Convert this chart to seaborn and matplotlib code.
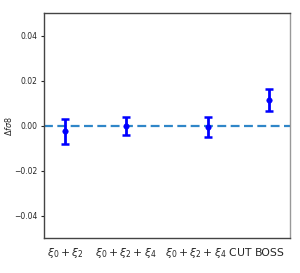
import matplotlib
matplotlib.use("Agg")
import matplotlib.pyplot as plt
import seaborn as sns
import pandas as pd

# dados
labels = [r"$\xi_0+\xi_2$", r"$\xi_0+\xi_2+\xi_4$", r"$\xi_0+\xi_2+\xi_4$ CUT", "BOSS"]
positions = [0, 1, 2.35, 3.35]
delta_fs8 = [-0.0025, 0.0, -0.0005, 0.0115]
errors = [0.0055, 0.004, 0.0045, 0.0048]

df = pd.DataFrame({"x": positions, "y": delta_fs8, "err": errors})

sns.set_style("white")
plt.rcParams["mathtext.fontset"] = "custom"
plt.rcParams["mathtext.rm"] = "DejaVu Sans Condensed"
plt.rcParams["mathtext.it"] = "DejaVu Sans Condensed:italic"
plt.rcParams["mathtext.bf"] = "DejaVu Sans Condensed:bold"

fig, ax = plt.subplots(figsize=(3.0, 2.73), dpi=100)

ax.axhline(0, color="#2f86c8", linestyle="--", linewidth=1.6, dashes=(4, 2), zorder=1)
ax.errorbar(df["x"], df["y"], yerr=df["err"], fmt="none", ecolor="blue",
            elinewidth=2, capsize=3, capthick=1.8, zorder=2)
sns.scatterplot(x="x", y="y", data=df, color="blue", s=16, edgecolor="blue",
                ax=ax, zorder=3)

ax.set_xlim(-0.344, 3.69)
ax.set_ylim(-0.05, 0.05)
ax.set_yticks([-0.04, -0.02, 0.0, 0.02, 0.04])
ax.set_yticklabels(["\u22120.04", "\u22120.02", "0.00", "0.02", "0.04"], fontsize=5.5)
ax.set_xticks(positions)
ax.set_xticklabels(labels, fontsize=7.8, family="DejaVu Sans Condensed")
# BOSS sem subscrito fica mais alto, desce um pouco
ax.get_xticklabels()[3].set_y(-0.009)
ax.tick_params(axis="x", length=0, pad=6)
ax.tick_params(axis="y", length=2.5, width=0.8, pad=2, left=True)
ax.set_xlabel("")
ax.set_ylabel(r"$\Delta f\sigma 8$", fontsize=5.8, labelpad=0)

for side in ["left", "bottom", "top"]:
    ax.spines[side].set_color("#444444")
    ax.spines[side].set_linewidth(1.0)
ax.spines["right"].set_color("#999999")
ax.spines["right"].set_linewidth(1.0)

fig.subplots_adjust(left=0.147, right=0.967, top=0.952, bottom=0.128)
plt.savefig("out.png", dpi=100)
